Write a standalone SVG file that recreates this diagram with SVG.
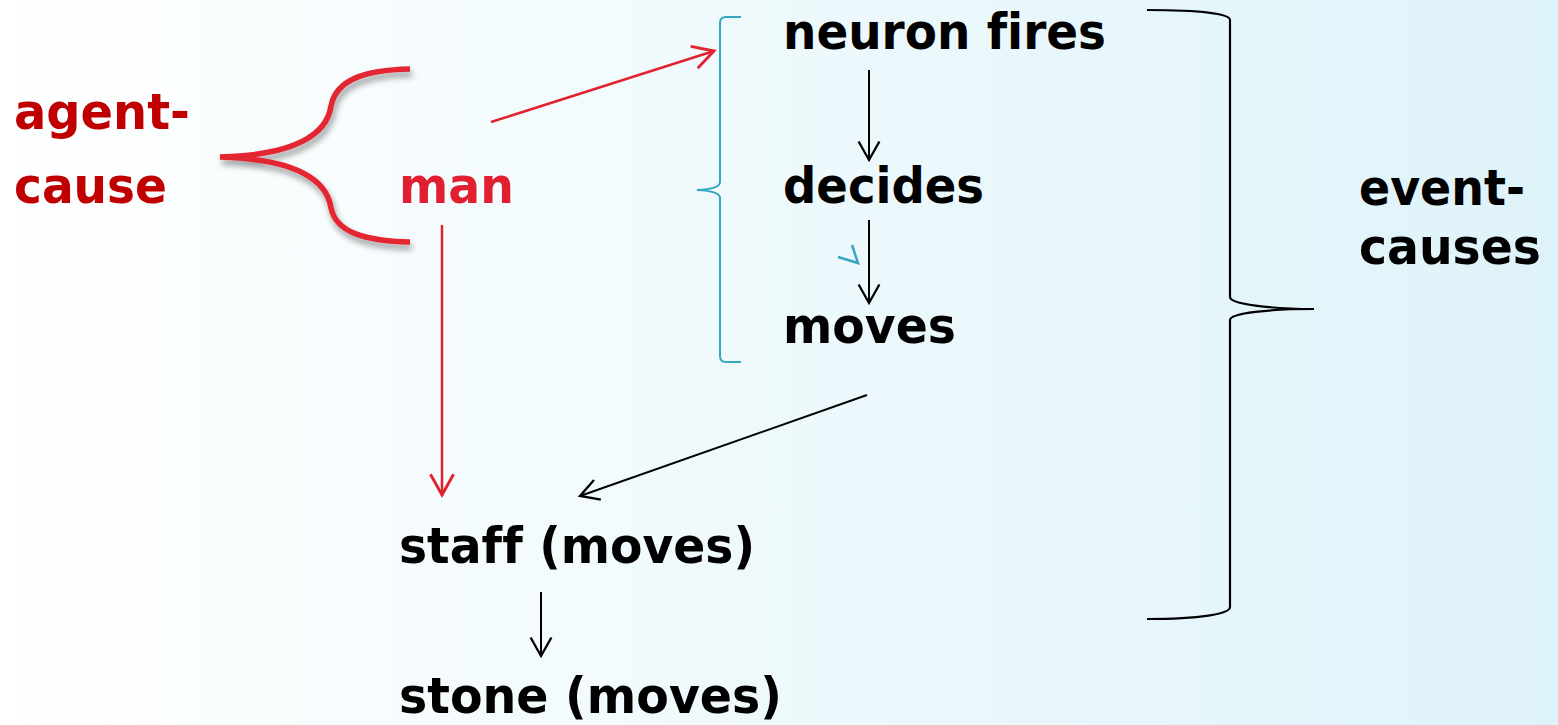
<svg xmlns="http://www.w3.org/2000/svg" width="1558" height="725" viewBox="0 0 1558 725">
  <defs>
    <linearGradient id="bg" x1="0" y1="0" x2="1" y2="0">
      <stop offset="0" stop-color="#ffffff"/>
      <stop offset="0.5" stop-color="#eef9fc"/>
      <stop offset="1" stop-color="#def3f9"/>
    </linearGradient>
    <filter id="shadow" x="-20%" y="-20%" width="140%" height="140%">
      <feGaussianBlur in="SourceAlpha" stdDeviation="3"/>
      <feOffset dx="2" dy="5" result="b"/>
      <feComponentTransfer><feFuncA type="linear" slope="0.4"/></feComponentTransfer>
      <feMerge><feMergeNode/><feMergeNode in="SourceGraphic"/></feMerge>
    </filter>
    <marker id="arrRed" markerUnits="userSpaceOnUse" markerWidth="30" markerHeight="30" viewBox="-22 -12 26 24" refX="0" refY="0" orient="auto">
      <path d="M-18,-10 L0,0 L-18,10" fill="none" stroke="#e0232f" stroke-width="2.5"/>
    </marker>
    <marker id="arrBlack" markerUnits="userSpaceOnUse" markerWidth="30" markerHeight="30" viewBox="-22 -12 26 24" refX="0" refY="0" orient="auto">
      <path d="M-16,-9 L0,0 L-16,9" fill="none" stroke="#000" stroke-width="2"/>
    </marker>
  </defs>
  <style>
    text { font-family: "DejaVu Sans", Verdana, sans-serif; font-weight: bold; font-size: 49px; font-variant-ligatures: none; }
    .blk { fill: #000; }
    .agent { fill: #c00000; }
    .man { fill: #e0202e; }
    .red { stroke: #e0232f; stroke-width: 2.5; fill: none; }
    .black { stroke: #000; stroke-width: 2; fill: none; }
  </style>

  <rect x="0" y="0" width="1558" height="725" fill="url(#bg)"/>

  <!-- agent-cause label with red brace -->
  <g id="agent-cause">
    <text class="agent" x="14" y="129" textLength="176" lengthAdjust="spacingAndGlyphs">agent-</text>
    <text class="agent" x="14" y="203" textLength="153" lengthAdjust="spacingAndGlyphs">cause</text>
    <path d="M410,69 C364,70 336,80 331,106 C327,134 296,155 220,157 C296,159 327,180 331,208 C336,232 364,241 410,242" fill="none" stroke="#e42530" stroke-width="5.5" filter="url(#shadow)"/>
  </g>

  <g id="man">
    <text class="man" x="399" y="203" textLength="115" lengthAdjust="spacingAndGlyphs">man</text>
  </g>

  <!-- teal bracket around the neuron chain -->
  <g id="mind-bracket">
    <path d="M741,17 L726,17 Q720,17 720,23 L720,182 Q720,189 697,190 Q720,191 720,198 L720,356 Q720,362 726,362 L741,362" fill="none" stroke="#35a7c3" stroke-width="2"/>
  </g>

  <g id="neuron-fires">
    <text class="blk" x="783" y="49" textLength="323" lengthAdjust="spacingAndGlyphs">neuron fires</text>
  </g>
  <g id="decides">
    <text class="blk" x="783" y="203" textLength="201" lengthAdjust="spacingAndGlyphs">decides</text>
  </g>
  <g id="moves">
    <text class="blk" x="783" y="343" textLength="173" lengthAdjust="spacingAndGlyphs">moves</text>
  </g>

  <!-- event-causes label with black brace -->
  <g id="event-causes">
    <path d="M1147,10 C1200,10 1230,14 1230,20 L1230,297 C1230,304 1270,309 1314,309 C1270,309 1230,313 1230,320 L1230,607 C1230,614 1200,619 1147,619" fill="none" stroke="#000" stroke-width="2.2"/>
    <text class="blk" x="1359" y="205" textLength="166" lengthAdjust="spacingAndGlyphs">event-</text>
    <text class="blk" x="1359" y="264" textLength="182" lengthAdjust="spacingAndGlyphs">causes</text>
  </g>

  <g id="staff">
    <text class="blk" x="399" y="563" textLength="356" lengthAdjust="spacingAndGlyphs">staff (moves)</text>
  </g>
  <g id="stone">
    <text class="blk" x="399" y="713" textLength="383" lengthAdjust="spacingAndGlyphs">stone (moves)</text>
  </g>

  <g id="connectors">
    <line class="red" x1="491" y1="122" x2="714" y2="51" marker-end="url(#arrRed)"/>
    <line class="red" x1="442" y1="225" x2="442" y2="495" marker-end="url(#arrRed)"/>
    <line class="black" x1="869" y1="70" x2="869" y2="160" marker-end="url(#arrBlack)"/>
    <line class="black" x1="869" y1="220" x2="869" y2="303" marker-end="url(#arrBlack)"/>
    <line class="black" x1="867" y1="395" x2="580" y2="496" marker-end="url(#arrBlack)"/>
    <line class="black" x1="541" y1="592" x2="541" y2="656" marker-end="url(#arrBlack)"/>
    <polyline points="838,257 858,263 852,245" fill="none" stroke="#35a7c3" stroke-width="2.5"/>
  </g>
</svg>
